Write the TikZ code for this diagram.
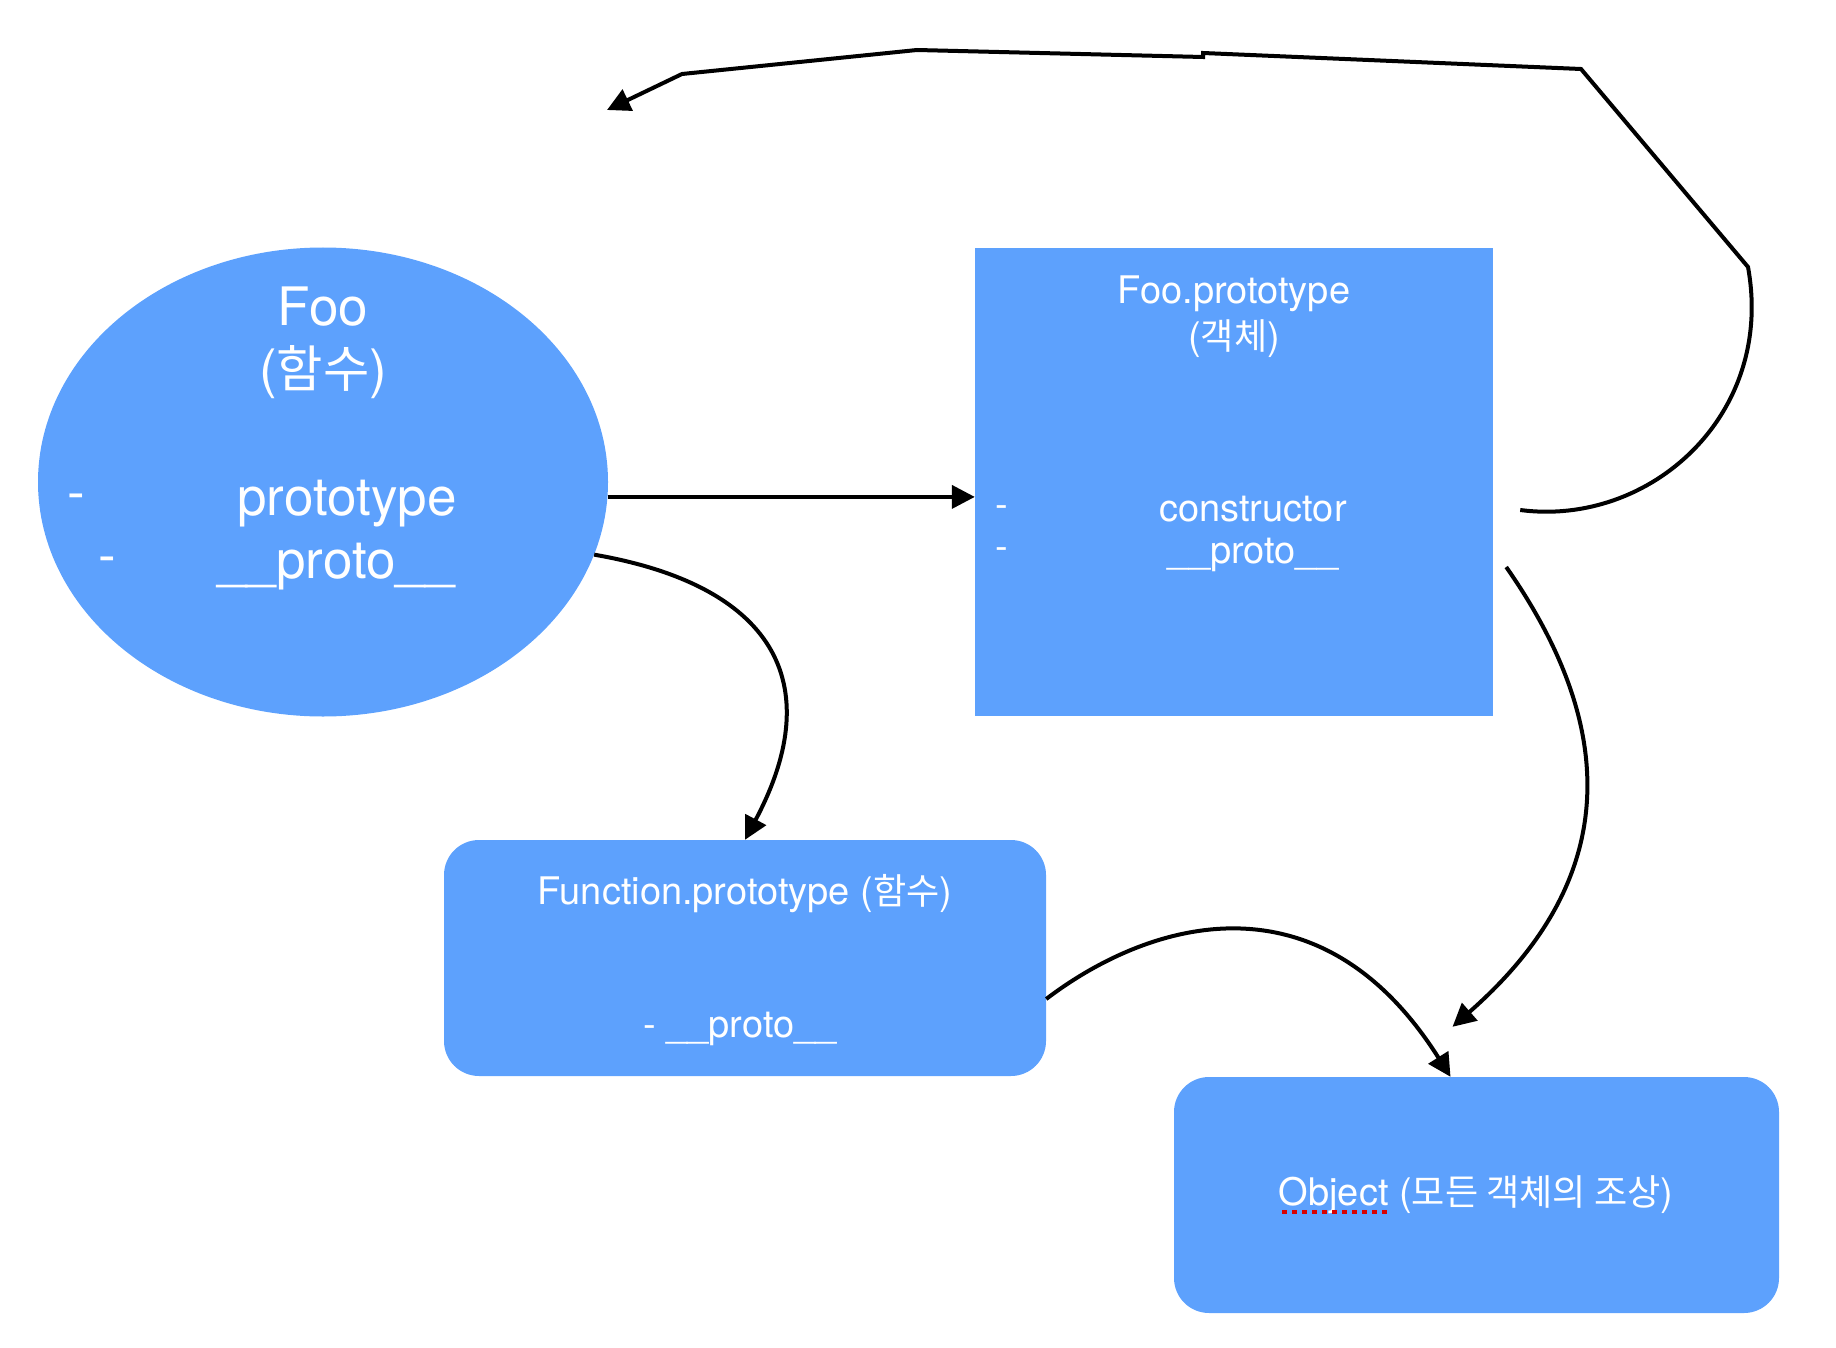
\documentclass[tikz,border=0pt]{standalone}
\usepackage{fontspec}
\setmainfont{TeX Gyre Heros}
\newfontfamily\krfont[Scale=0.95]{Noto Sans CJK KR}
\usetikzlibrary{shapes.geometric,arrows.meta,calc}
\definecolor{protoblue}{RGB}{93,161,253}

\begin{document}
\begin{tikzpicture}[x=1pt,y=-1pt,
	every node/.style={text=white, inner sep=0pt},
	blob/.style={fill=protoblue, draw=none},
	link/.style={black, line width=4pt, -{Triangle[length=23pt,width=23pt]}},
	bigtext/.style={font=\fontsize{53}{62}\selectfont, align=center},
	midtext/.style={font=\fontsize{38}{46}\selectfont, align=center}]
	\useasboundingbox (0,0) rectangle (1836,1348);
	\node[blob, ellipse, minimum width=570pt, minimum height=469pt] (foo) at (323,482) {};
	\node[blob, rectangle, minimum width=518pt, minimum height=468pt] (fooProto) at (1234,482) {};
	\node[blob, rectangle, rounded corners=35pt, minimum width=602pt, minimum height=236pt] (funcProto) at (745,958) {};
	\node[blob, rectangle, rounded corners=35pt, minimum width=605pt, minimum height=236pt] (objectBox) at (1476.5,1195) {};
	\node[bigtext] (fooTitle) at (323,343) {Foo\\({\krfont 함수})};
	\node[bigtext] (fooDashA) at (76,502) {-};
	\node[bigtext] (fooDashB) at (107,565) {-};
	\node[bigtext] (fooItemA) at (347,504) {prototype};
	\node[bigtext] (fooItemB) at (336,567) {\_\_proto\_\_};
	\node[midtext] (fooProtoTitle) at (1234,317) {Foo.prototype\\({\krfont 객체})};
	\node[midtext] (fooProtoDashA) at (1002,512) {-};
	\node[midtext] (fooProtoDashB) at (1002,554) {-};
	\node[midtext] (fooProtoItemA) at (1253,509) {constructor};
	\node[midtext] (fooProtoItemB) at (1253,555) {\_\_proto\_\_};
	\node[midtext] (funcProtoTitle) at (745,894) {Function.prototype ({\krfont 함수})};
	\node[midtext] (funcProtoItem) at (740,1029) {- \_\_proto\_\_};
	\node[midtext] (objectText) at (1476,1195) {Object ({\krfont 모든 객체의 조상})};
	\draw[red!85!black, line width=4pt, dash pattern=on 5pt off 5pt] (1282,1212) -- (1389,1212);
	\coordinate (fooRef) at (607,110);
	\draw[link] (foo.-3.4) -- (foo.-3.4 -| fooProto.west);
	\draw[link] (foo.-15.5) .. controls (770,585) and (830,680) .. (funcProto.north);
	\draw[link] ($(fooProto.east)+(27,28)$) .. controls (1650,527) and (1775,415) .. (1748,267)
		-- (1581,69) -- (1203,53) -- (1203,57) -- (917,50) -- (682,74) -- (fooRef);
	\draw[link] ($(fooProto.east)+(13,85)$) .. controls (1620,730) and (1620,880) .. ($(objectBox.north)+(-24,-50)$);
	\draw[link] ($(funcProto.east)+(0,41)$) .. controls (1150,920) and (1320,870) .. ($(objectBox.north)+(-26,0)$);
\end{tikzpicture}
\end{document}
